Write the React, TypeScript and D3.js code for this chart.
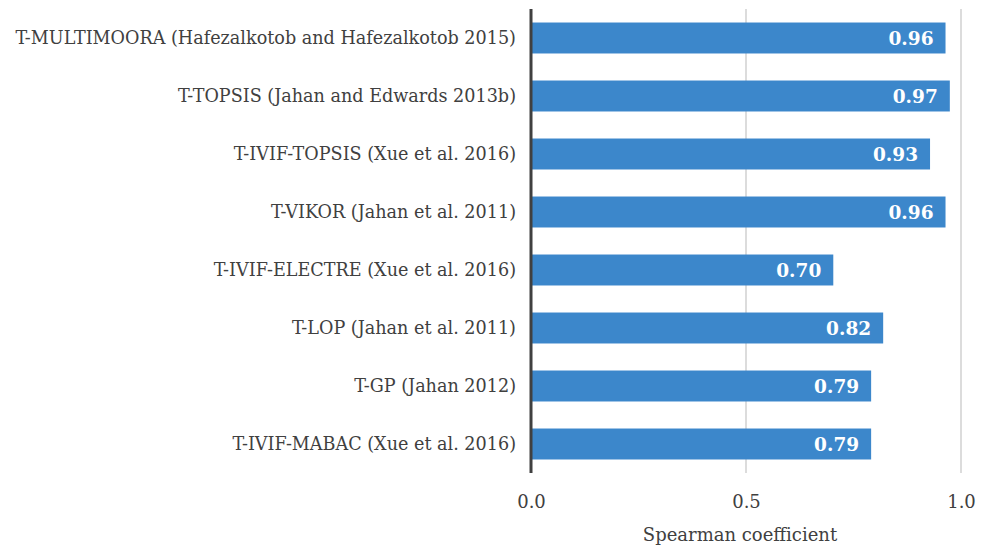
import React, { useRef, useEffect } from 'react'
import * as d3 from 'd3'

// methods, top to bottom
const methods = [
    'T-MULTIMOORA (Hafezalkotob and Hafezalkotob 2015)',
    'T-TOPSIS (Jahan and Edwards 2013b)',
    'T-IVIF-TOPSIS (Xue et al. 2016)',
    'T-VIKOR (Jahan et al. 2011)',
    'T-IVIF-ELECTRE (Xue et al. 2016)',
    'T-LOP (Jahan et al. 2011)',
    'T-GP (Jahan 2012)',
    'T-IVIF-MABAC (Xue et al. 2016)',
]
const spearman = [0.964, 0.974, 0.928, 0.964, 0.703, 0.819, 0.791, 0.791]
const xTicks = [0, 0.5, 1.0]
const xTitle = 'Spearman coefficient'

const App = () => {
    const visEl = useRef<HTMLDivElement>(null)
    const width = 988
    const height = 549

    useEffect(() => {
        const root = d3.select(visEl.current)
        root.selectAll('*').remove()
        const svg = root.append('svg')
            .attr('width', width)
            .attr('height', height)
            .style('display', 'block')
            .style('position', 'absolute')
            .style('left', 0)
            .style('top', 0)
            .style('background', '#fff')

        const margin = { top: 9, right: 27, bottom: 76, left: 531 }
        const innerHeight = height - margin.top - margin.bottom

        const data = methods.map((m, i) => ({ name: m, value: spearman[i] }))

        const xScale = d3.scaleLinear().domain([0, 1]).range([0, 430])
        const yScale = d3.scaleBand()
            .domain(methods)
            .range([0, innerHeight])
            .paddingInner(0.466)
            .paddingOuter(0.233)

        const g = svg.append('g')
            .attr('transform', `translate(${margin.left},${margin.top})`)

        // grid
        g.selectAll('.grid').data(xTicks.filter(t => t > 0)).enter().append('line')
            .attr('x1', d => xScale(d)).attr('x2', d => xScale(d))
            .attr('y1', 0).attr('y2', innerHeight)
            .attr('stroke', '#c9c9c9').attr('stroke-width', 1.3)

        const xAxis = d3.axisBottom(xScale)
            .tickValues(xTicks)
            .tickFormat(d3.format('.1f'))
            .tickSize(0)
            .tickPadding(22)
        const xAxisG = g.append('g').call(xAxis)
            .attr('transform', `translate(0,${innerHeight})`)
        xAxisG.select('.domain').remove()
        xAxisG.selectAll('text')
            .attr('font-family', '"DejaVu Serif", serif')
            .attr('font-size', 18)
            .attr('fill', '#404040')

        g.append('text')
            .attr('x', 209)
            .attr('y', 532)
            .attr('text-anchor', 'middle')
            .attr('font-family', '"DejaVu Serif", serif')
            .attr('font-size', 18)
            .attr('fill', '#404040')
            .text(xTitle)

        g.selectAll('.bar').data(data).enter().append('rect')
            .attr('x', 0)
            .attr('y', d => yScale(d.name)!)
            .attr('width', d => xScale(d.value))
            .attr('height', yScale.bandwidth())
            .attr('fill', '#3c87cb')

        g.selectAll('.val').data(data).enter().append('text')
            .attr('x', d => xScale(d.value) - 12)
            .attr('y', d => yScale(d.name)! + yScale.bandwidth() / 2)
            .attr('dy', '0.38em')
            .attr('text-anchor', 'end')
            .attr('font-family', '"DejaVu Serif", serif')
            .attr('font-weight', 'bold')
            .attr('font-size', 18.5)
            .attr('fill', '#fff')
            .text(d => d3.format('.2f')(d.value))

        const yAxis = d3.axisLeft(yScale).tickSize(0).tickPadding(15)
        const yAxisG = g.append('g').call(yAxis)
        yAxisG.select('.domain').remove()
        yAxisG.selectAll('text')
            .attr('font-family', '"DejaVu Serif", serif')
            .attr('font-size', 17.6)
            .attr('fill', '#404040')

        g.append('line')
            .attr('x1', 0).attr('x2', 0)
            .attr('y1', 0).attr('y2', innerHeight)
            .attr('stroke', '#404040').attr('stroke-width', 3)
    }, [])

    return (
        <div>
            <div ref={visEl}></div>
        </div>
    )
}

export default App
